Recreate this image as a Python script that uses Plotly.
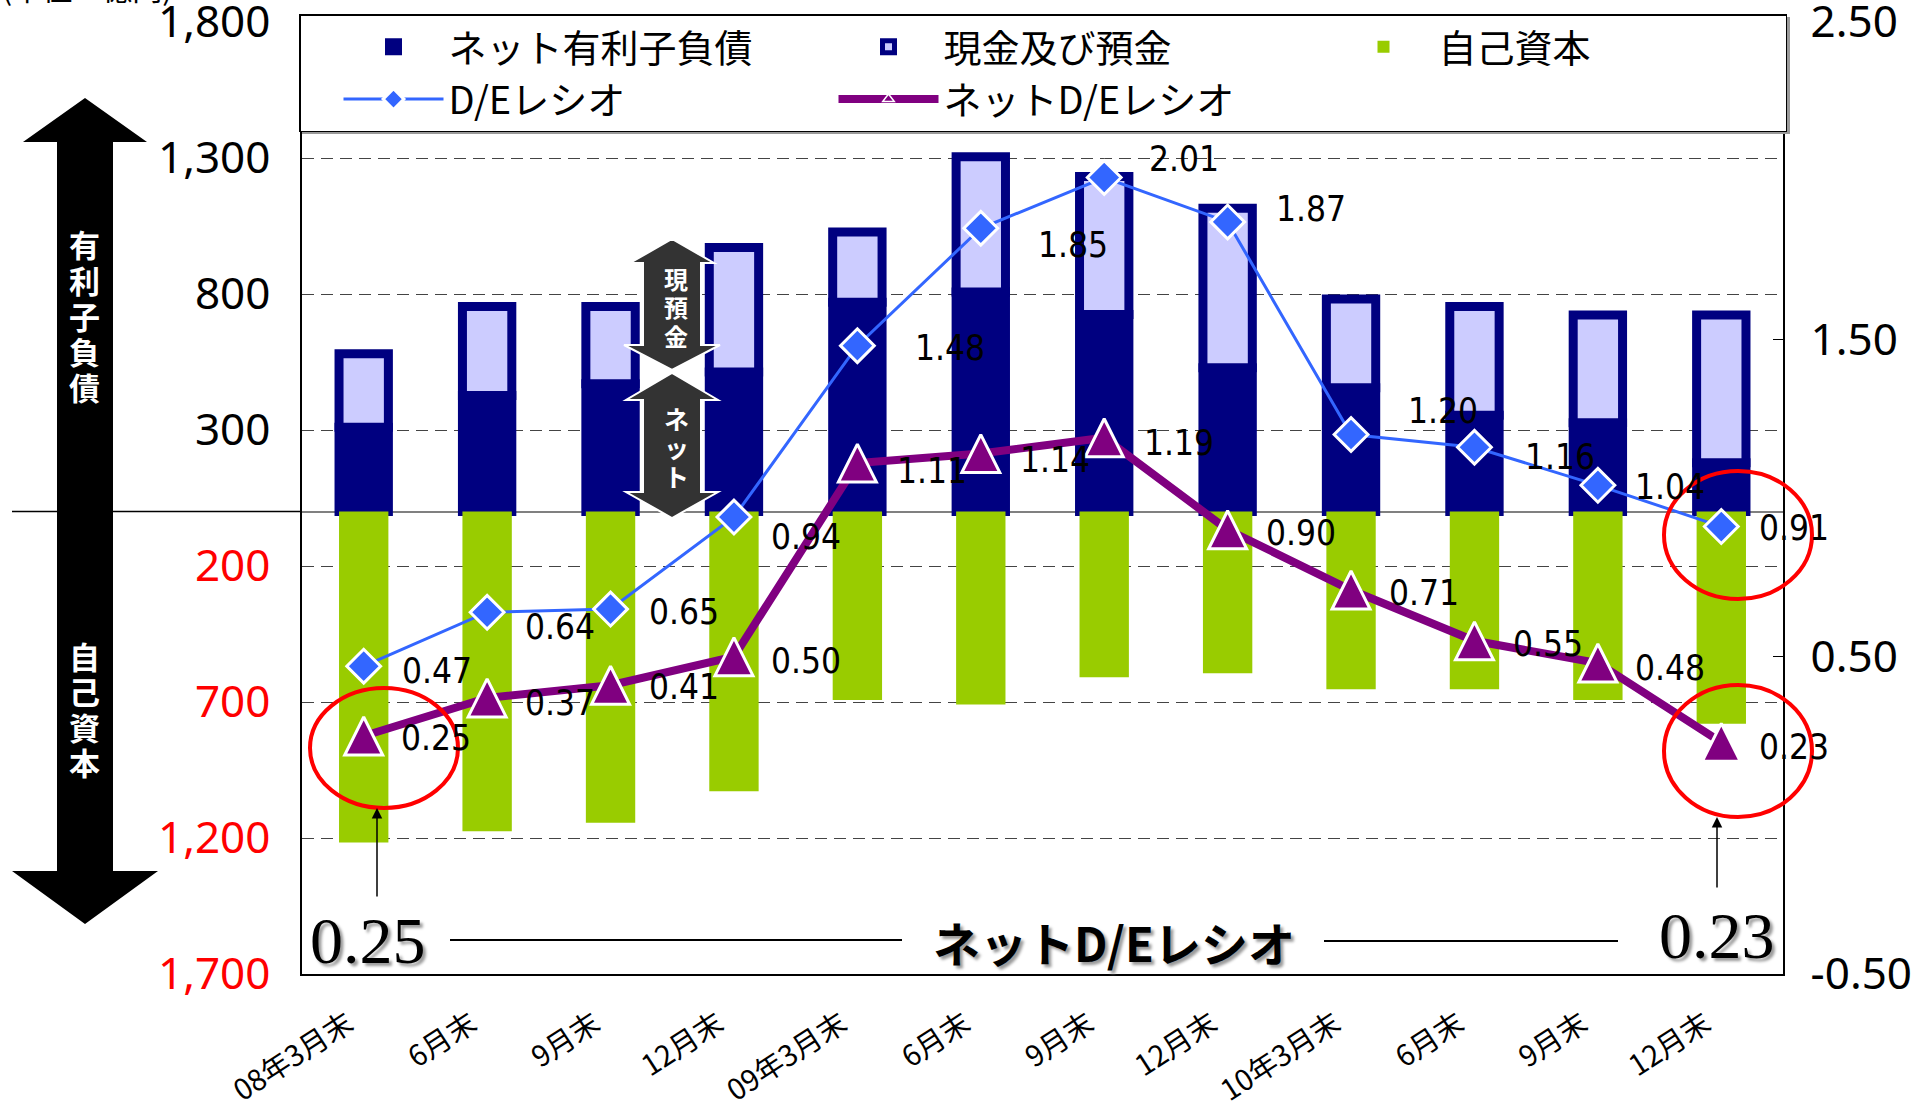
import plotly.graph_objects as go

# ---------------- data ----------------
categories = ["08年3月末", "6月末", "9月末", "12月末", "09年3月末", "6月末",
              "9月末", "12月末", "10年3月末", "6月末", "9月末", "12月末"]
net_debt = [310, 427, 470, 513, 770, 807, 725, 529, 455, 354, 327, 180]
cash = [270, 327, 284, 458, 258, 498, 507, 586, 327, 400, 396, 543]
equity = [1217, 1175, 1144, 1028, 693, 709, 609, 594, 653, 653, 693, 780]
de_ratio = [0.47, 0.64, 0.65, 0.94, 1.48, 1.85, 2.01, 1.87, 1.20, 1.16, 1.04, 0.91]
net_de_ratio = [0.25, 0.37, 0.41, 0.50, 1.11, 1.14, 1.19, 0.90, 0.71, 0.55, 0.48, 0.23]

left_ticks = [1800, 1300, 800, 300, -200, -700, -1200, -1700]
left_tick_labels = ["1,800", "1,300", "800", "300", "200", "700", "1,200", "1,700"]
right_ticks = [2.5, 1.5, 0.5, -0.5]
right_tick_labels = ["2.50", "1.50", "0.50", "-0.50"]

# label offsets (px) : style only
de_off = [(38, 5), (38, 15), (38, 3), (37, 20), (58, 2), (57, 17), (45, -18),
          (48, -13), (57, -24), (51, 10), (37, 2), (38, 1)]
nde_off = [(37, 2), (38, 5), (38, 2), (37, 4), (40, 8), (39, 6), (40, 5),
           (38, 3), (38, 3), (39, 3), (37, 5), (38, 5)]

# ---------------- layout geometry ----------------
W, H = 1917, 1110
L, R, T, B = 302, 1783, 22, 974


def PX(x):
    return (x - L) / (R - L)


def PY(y):
    return (B - y) / (B - T)


def path(points):
    return "M " + " L ".join(f"{PX(x):.5f},{PY(y):.5f}" for x, y in points) + " Z"


xs = list(range(len(categories)))
NAVY = "#000080"
LAV = "#CCCCFF"
GREEN = "#99CC00"
BLUE = "#3366FF"
PURPLE = "#800080"
LABEL_FONT = "DejaVu Sans Condensed, Liberation Sans Narrow, sans-serif"
JP = "Noto Sans CJK JP"

fig = go.Figure()

fig.add_trace(go.Bar(x=xs, y=net_debt, name="ネット有利子負債", width=0.4,
                     marker=dict(color=NAVY, line=dict(color=NAVY, width=9))))
fig.add_trace(go.Bar(x=xs, y=cash, name="現金及び預金", width=0.4,
                     marker=dict(color=LAV, line=dict(color=NAVY, width=9))))
fig.add_trace(go.Bar(x=xs, y=[-v for v in equity], name="自己資本", width=0.4,
                     marker=dict(color=GREEN, line=dict(width=0))))

fig.add_trace(go.Scatter(x=xs, y=de_ratio, yaxis="y2", name="D/Eレシオ",
                         mode="lines+markers",
                         line=dict(color=BLUE, width=3),
                         marker=dict(symbol="diamond", size=26, color=BLUE,
                                     line=dict(color="white", width=3))))
fig.add_trace(go.Scatter(x=xs, y=net_de_ratio, yaxis="y2", name="ネットD/Eレシオ",
                         mode="lines+markers",
                         line=dict(color=PURPLE, width=8),
                         marker=dict(symbol="triangle-up", size=10, color=PURPLE,
                                     line=dict(color="white", width=1.5))))
# triangle markers (arrow-up symbol is anchored at its apex; axis y3 re-centres it)
TRI = 38
shift = (TRI / 2) / (B - T) * 3.0
fig.add_trace(go.Scatter(x=xs, y=net_de_ratio, yaxis="y3", showlegend=False,
                         mode="markers", hoverinfo="skip",
                         marker=dict(symbol="arrow-up", size=TRI, color=PURPLE,
                                     line=dict(color="white", width=3))))

annotations = []
# data labels
for i, v in enumerate(de_ratio):
    annotations.append(dict(x=xs[i], y=v, xref="x", yref="y2", text=f"{v:.2f}",
                            showarrow=False, xanchor="left", yanchor="middle",
                            xshift=de_off[i][0] - 2, yshift=-de_off[i][1],
                            font=dict(family=LABEL_FONT, size=35, color="black")))
for i, v in enumerate(net_de_ratio):
    annotations.append(dict(x=xs[i], y=v, xref="x", yref="y2", text=f"{v:.2f}",
                            showarrow=False, xanchor="left", yanchor="middle",
                            xshift=nde_off[i][0] - 2, yshift=-nde_off[i][1],
                            font=dict(family=LABEL_FONT, size=35, color="black")))


# vertical white labels inside arrows
def vtext(chars, x, y0, pitch, size):
    for k, ch in enumerate(chars):
        annotations.append(dict(x=PX(x), y=PY(y0 + k * pitch), xref="paper", yref="paper",
                                text=ch, showarrow=False, xanchor="center", yanchor="middle",
                                font=dict(family=JP, size=size, color="white", weight="bold")))


vtext("有利子負債", 85, 244, 35.5, 31)
vtext("自己資本", 85, 655, 35.5, 31)
vtext("現預金", 676, 278, 28.5, 24)
vtext("ネット", 676, 418, 29, 25)

# big bottom texts
shadow = "3px 3px 3px #9a9a9a"
annotations.append(dict(x=PX(368), y=PY(940), xref="paper", yref="paper", text="0.25",
                        showarrow=False, xanchor="center", yanchor="middle",
                        font=dict(family="Liberation Serif", size=66, color="black", shadow=shadow)))
annotations.append(dict(x=PX(1717), y=PY(935), xref="paper", yref="paper", text="0.23",
                        showarrow=False, xanchor="center", yanchor="middle",
                        font=dict(family="Liberation Serif", size=66, color="black", shadow=shadow)))
annotations.append(dict(x=PX(1114), y=PY(941), xref="paper", yref="paper", text="ネットD/Eレシオ",
                        showarrow=False, xanchor="center", yanchor="middle",
                        font=dict(family=JP, size=47, color="black", weight="bold", shadow=shadow)))
# arrows pointing to the circled values
annotations.append(dict(x=PX(377), y=PY(808), xref="paper", yref="paper", text="",
                        showarrow=True, ax=0, ay=90, arrowhead=2, arrowsize=1.4,
                        arrowwidth=1.5, arrowcolor="black"))
annotations.append(dict(x=PX(1717), y=PY(817), xref="paper", yref="paper", text="",
                        showarrow=True, ax=0, ay=72, arrowhead=2, arrowsize=1.4,
                        arrowwidth=1.5, arrowcolor="black"))
# unit note (cut off at top of the page)
annotations.append(dict(x=0, y=PY(11), xref="paper", yref="paper", text="(単位：億円)",
                        showarrow=False, xanchor="left", yanchor="bottom",
                        xshift=-L, font=dict(family=JP, size=30, color="black")))

shapes = []
# legend shadow
shapes.append(dict(type="rect", xref="paper", yref="paper", layer="above",
                   x0=PX(302), x1=PX(1790), y0=PY(134), y1=PY(17),
                   fillcolor="#9a9a9a", line=dict(width=0)))
# big double arrow on the left
shapes.append(dict(type="path", xref="paper", yref="paper", layer="above",
                   path=path([(85, 98), (147, 142), (113, 142), (113, 871), (158, 871),
                              (85, 924), (12, 871), (57, 871), (57, 142), (23, 142)]),
                   fillcolor="black", line=dict(width=0)))
# zero line extension
shapes.append(dict(type="line", xref="paper", yref="y", x0=PX(12), x1=0, y0=0, y1=0,
                   layer="above", line=dict(color="black", width=1.5)))
# small arrows 現預金 / ネット
shapes.append(dict(type="path", xref="paper", yref="paper", layer="above",
                   path=path([(672, 239), (714, 263), (701, 263), (701, 345), (720, 345),
                              (672, 370), (624, 345), (643, 345), (643, 263), (630, 263)]),
                   fillcolor="#333333", line=dict(color="white", width=2)))
shapes.append(dict(type="path", xref="paper", yref="paper", layer="above",
                   path=path([(672, 373), (718, 400), (701, 400), (701, 492), (718, 492),
                              (672, 518), (626, 492), (643, 492), (643, 400), (626, 400)]),
                   fillcolor="#333333", line=dict(color="white", width=2)))
# red ellipses
for cx, cy, rx, ry in [(384, 748, 74, 60), (1738, 535, 74, 64), (1738, 751, 74, 66)]:
    shapes.append(dict(type="circle", xref="paper", yref="paper", layer="above",
                       x0=PX(cx - rx), x1=PX(cx + rx), y0=PY(cy + ry), y1=PY(cy - ry),
                       line=dict(color="red", width=4)))
# lines beside the caption
shapes.append(dict(type="line", xref="paper", yref="paper", layer="above",
                   x0=PX(450), x1=PX(902), y0=PY(940), y1=PY(940),
                   line=dict(color="black", width=2)))
shapes.append(dict(type="line", xref="paper", yref="paper", layer="above",
                   x0=PX(1324), x1=PX(1618), y0=PY(941), y1=PY(941),
                   line=dict(color="black", width=2)))

left_text = [f'<span style="color:{"black" if v > 0 else "red"}">{t}</span>'
             for v, t in zip(left_ticks, left_tick_labels)]

fig.update_layout(
    width=W, height=H,
    margin=dict(l=L, r=W - R, t=T, b=H - B, autoexpand=False),
    paper_bgcolor="white", plot_bgcolor="white",
    barmode="relative",
    showlegend=True,
    legend=dict(orientation="h", x=PX(299), y=PY(14), xanchor="left", yanchor="top",
                bgcolor="white", bordercolor="black", borderwidth=1.5,
                font=dict(family=JP, size=38, color="black"),
                itemwidth=100, indentation=38, entrywidth=342, entrywidthmode="pixels",
                traceorder="normal"),
    xaxis=dict(range=[-0.5, len(categories) - 0.5], tickmode="array", tickvals=xs,
               ticktext=categories, tickangle=-33, showgrid=False, zeroline=False,
               showline=True, linecolor="black", linewidth=1.5, mirror=True,
               ticks="", ticklabelstandoff=20, ticklabelshift=-16,
               tickfont=dict(family=JP, size=29, color="black")),
    yaxis=dict(range=[-1700, 1800], tickmode="array", tickvals=left_ticks, ticktext=left_text,
               showgrid=True, gridcolor="#444444", gridwidth=1.2, griddash="12px,7px",
               zeroline=True, zerolinecolor="#808080", zerolinewidth=2,
               showline=True, linecolor="black", linewidth=1.5, ticks="",
               ticklabelstandoff=21, ticklabeloverflow="allow",
               tickfont=dict(family="Noto Sans", size=44, color="black")),
    yaxis2=dict(range=[-0.5, 2.5], overlaying="y", side="right", tickmode="array",
                tickvals=right_ticks, ticktext=right_tick_labels, showgrid=False,
                zeroline=False, showline=True, linecolor="black", linewidth=1.5,
                ticks="inside", ticklen=10, tickcolor="black", ticklabelstandoff=17,
                ticklabeloverflow="allow",
                tickfont=dict(family="Noto Sans", size=44, color="black")),
    yaxis3=dict(range=[-0.5 - shift, 2.5 - shift], overlaying="y", visible=False),
    annotations=annotations,
    shapes=shapes,
)

fig.write_html("out.html", config={"displayModeBar": False},
               post_script="document.body.style.margin='0px';")
